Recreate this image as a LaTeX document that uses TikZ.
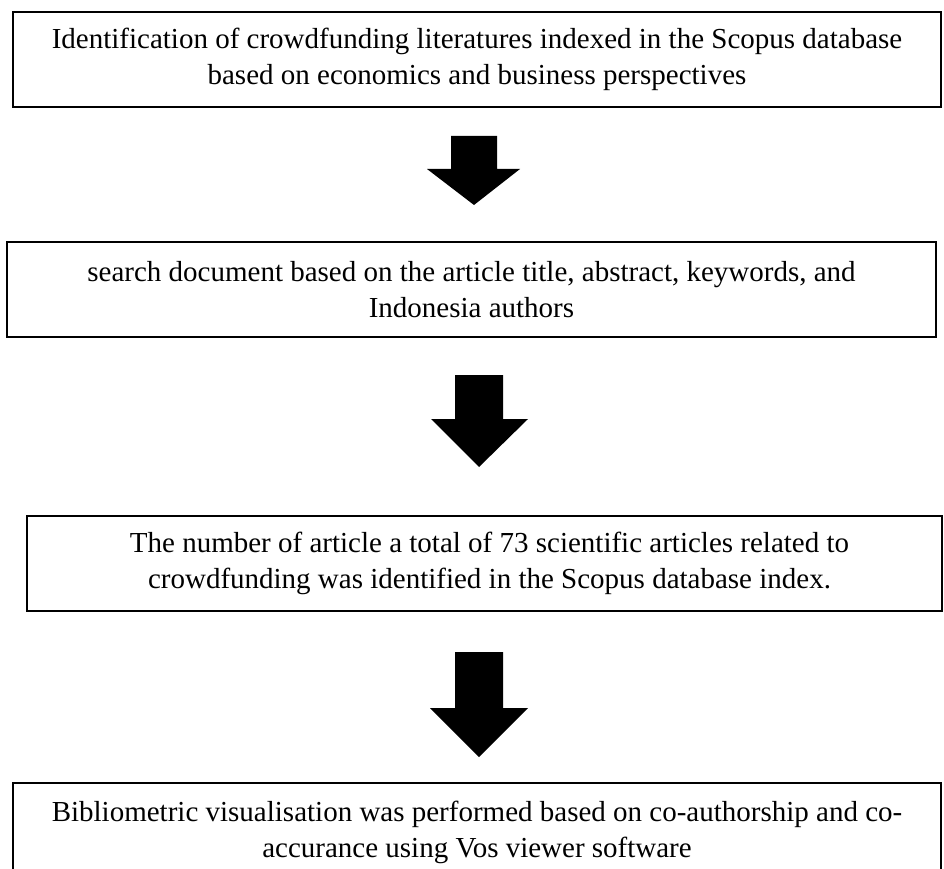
\documentclass[tikz,border=0pt]{standalone}
\usepackage{fontspec}
\setmainfont{Liberation Serif}
\begin{document}
\begin{tikzpicture}[x=1pt,y=-1pt,
  box/.style={draw=black,line width=2.6pt,rectangle,inner sep=0pt,align=center,
    font=\fontsize{29}{36}\selectfont},
  blockarrow/.style={fill=black,draw=none}]
\clip (0,0) rectangle (944,869);
\node[box,minimum width=928pt,minimum height=95pt] (b1) at (477,59.5)
  {Identification of crowdfunding literatures indexed in the Scopus database\\based on economics and business perspectives};
\node[box,minimum width=929pt,minimum height=95pt] (b2) at (471.5,289.5)
  {search document based on the article title, abstract, keywords, and\\Indonesia authors};
\node[box,minimum width=915pt,minimum height=95pt] (b3) at (484.5,563.5)
  {\hspace*{10pt}The number of article a total of 73 scientific articles related to\\\hspace*{10pt}crowdfunding was identified in the Scopus database index.};
\node[box,minimum width=928pt,minimum height=99pt] (b4) at (477,832.5)
  {Bibliometric visualisation was performed based on co-authorship and co-\\accurance using Vos viewer software};
\fill[blockarrow] (451,136) -- (497,136) -- (497,169) -- (520,169) -- (474,205) -- (427,169) -- (451,169) -- cycle;
\fill[blockarrow] (455,375) -- (503,375) -- (503,419) -- (528,419) -- (479,467) -- (431,419) -- (455,419) -- cycle;
\fill[blockarrow] (455,652) -- (503,652) -- (503,708) -- (528,708) -- (479,757) -- (430,708) -- (455,708) -- cycle;
\end{tikzpicture}
\end{document}
